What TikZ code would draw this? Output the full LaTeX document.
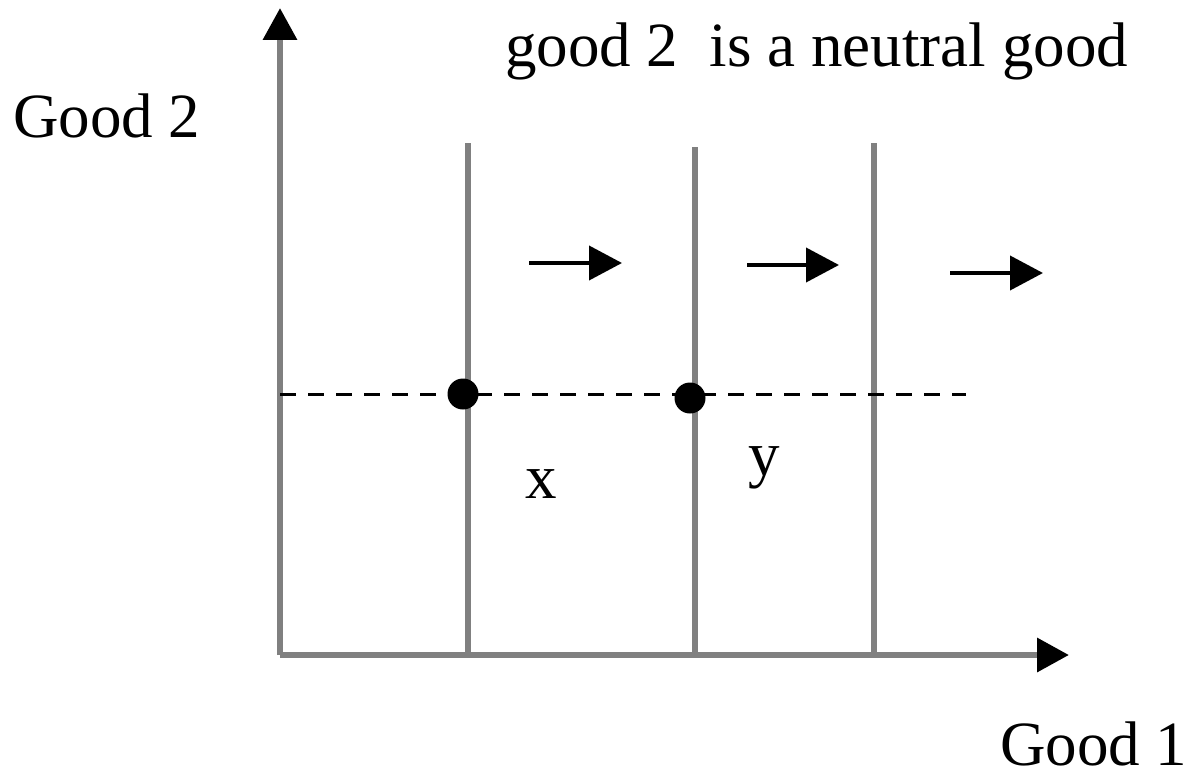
\documentclass[tikz,border=0pt]{standalone}
\usepackage{fontspec}
\setmainfont{Liberation Serif}
\usetikzlibrary{arrows.meta}
\definecolor{axisgray}{HTML}{808080}
\begin{document}
\begin{tikzpicture}[x=1pt,y=-1pt,
  axis/.style={draw=axisgray,line width=6.5pt,-{Triangle[length=32pt,width=33pt,color=black]}},
  indiff/.style={draw=axisgray,line width=6.5pt},
  guide/.style={draw=black,line width=3pt,dash pattern=on 16pt off 12pt},
  dot/.style={circle,fill=black,draw=none,inner sep=0pt,minimum size=31pt},
  shiftarrow/.style={draw=black,line width=4pt,-{Triangle[length=33pt,width=34pt]}},
  lbl/.style={font=\fontsize{63}{70}\selectfont,inner sep=0pt,anchor=base west}]
\useasboundingbox (0,0) rectangle (1196,773);
% axes
\coordinate (O) at (280,655);
\coordinate (ytip) at (280,8);
\coordinate (xtip) at (1069,655);
\draw[axis] (O) -- (ytip);
\draw[axis] (O) -- (xtip);
% indifference curves (vertical lines)
\coordinate (l1t) at (468,143); \coordinate (l1b) at (468,655);
\coordinate (l2t) at (695,147); \coordinate (l2b) at (695,655);
\coordinate (l3t) at (874,143); \coordinate (l3b) at (874,655);
\draw[indiff] (l1t) -- (l1b);
\draw[indiff] (l2t) -- (l2b);
\draw[indiff] (l3t) -- (l3b);
% dashed line
\coordinate (ds) at (280,394);
\coordinate (de) at (966,394);
\draw[guide] (ds) -- (de);
% bundles
\node[dot] (d1) at (463,394) {};
\node[dot] (d2) at (690,398) {};
% preference arrows
\coordinate (a1s) at (529,263); \coordinate (a1e) at (622,263);
\coordinate (a2s) at (747,265); \coordinate (a2e) at (839,265);
\coordinate (a3s) at (950,273); \coordinate (a3e) at (1043,273);
\draw[shiftarrow] (a1s) -- (a1e);
\draw[shiftarrow] (a2s) -- (a2e);
\draw[shiftarrow] (a3s) -- (a3e);
% texts
\node[lbl] (title) at (505,67) {good 2\ \ is a neutral good};
\node[lbl] (ylab) at (13,137) {Good 2};
\node[lbl] (xlab) at (1000,765) {Good 1};
\node[lbl] (xpt) at (525,498) {x};
\node[lbl] (ypt) at (748,475) {y};
\end{tikzpicture}
\end{document}
